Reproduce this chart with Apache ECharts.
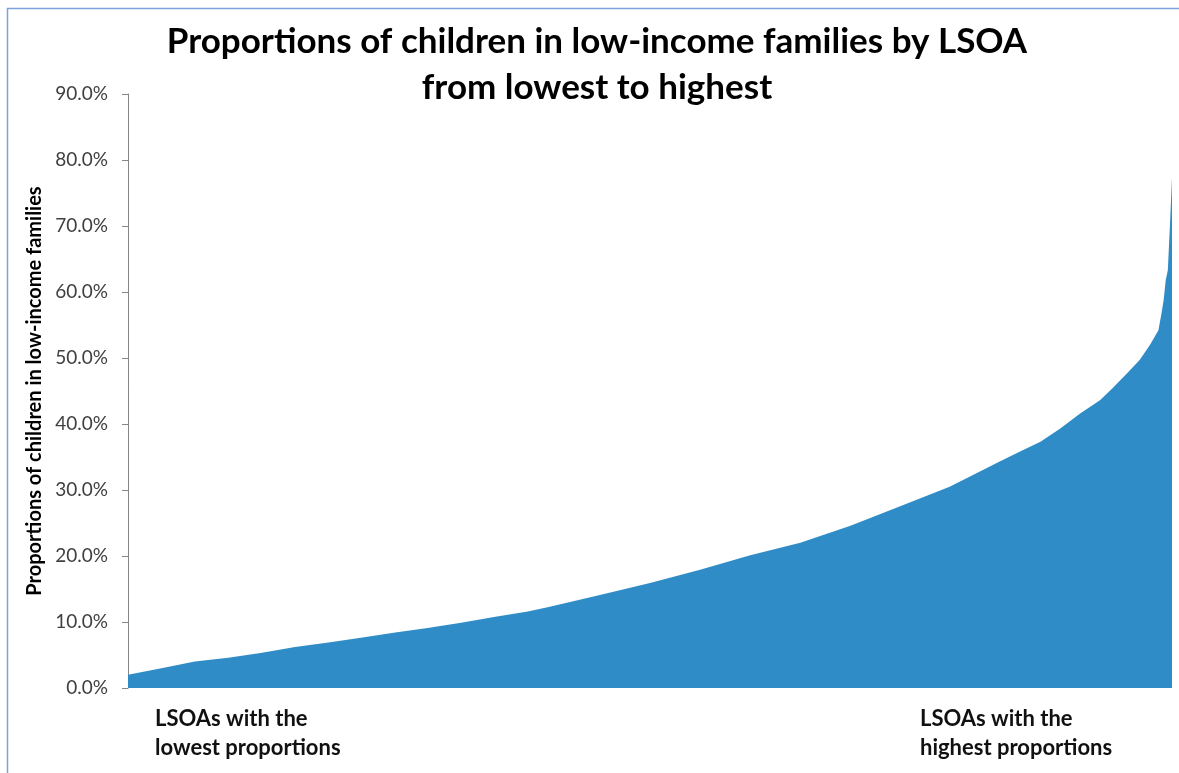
<!DOCTYPE html>
<html>
<head>
<meta charset="utf-8">
<script src="https://cdn.jsdelivr.net/npm/echarts@6/dist/echarts.min.js"></script>
<style>
  html, body { margin: 0; padding: 0; background: #ffffff; }
  #chart { width: 1179px; height: 773px; }
</style>
</head>
<body>
<div id="chart"></div>
<script>
// LSOA rank (scaled 0-1000, lowest to highest) and proportion of children in low-income families (%)
const ranks = [0, 32, 64, 96, 127, 160, 192, 223, 256, 287, 319, 352, 383, 404, 452, 500, 548, 596, 644, 692, 739, 787, 816, 835, 854, 874, 893, 912, 931, 943, 957, 969, 979, 987, 990, 992, 994, 996, 998, 1000];
const values = [2.0, 3.0, 4.0, 4.6, 5.3, 6.2, 6.9, 7.6, 8.4, 9.1, 9.9, 10.8, 11.6, 12.3, 14.1, 15.9, 17.9, 20.1, 22.0, 24.6, 27.5, 30.5, 32.8, 34.3, 35.8, 37.3, 39.3, 41.6, 43.6, 45.4, 47.7, 49.7, 52.0, 54.2, 56.8, 58.8, 61.8, 63.3, 70.0, 77.3];
const yTicks = [0, 10, 20, 30, 40, 50, 60, 70, 80, 90];
const titleLines = ['Proportions of children in low-income families by LSOA', 'from lowest to highest'];
const yAxisName = 'Proportions of children in low-income families';
const leftLabel = 'LSOAs with the\nlowest proportions';
const rightLabel = 'LSOAs with the\nhighest proportions';

const seriesData = ranks.map((r, i) => [r, values[i]]);

const chart = echarts.init(document.getElementById('chart'));
chart.setOption({
  animation: false,
  backgroundColor: '#ffffff',
  title: {
    text: titleLines.join('\n'),
    left: 592,
    top: 14,
    textAlign: 'center',
    textStyle: { fontFamily: 'Lato', fontWeight: 'bold', fontSize: 35, color: '#000000', lineHeight: 46 }
  },
  grid: { left: 128, right: 7, top: 94, bottom: 85, containLabel: false },
  xAxis: {
    type: 'value', min: 0, max: 1000, show: false
  },
  yAxis: {
    type: 'value', min: yTicks[0], max: yTicks[yTicks.length - 1], interval: 10,
    name: yAxisName,
    nameLocation: 'middle',
    nameGap: 82,
    nameTextStyle: { fontFamily: 'Lato', fontWeight: 'bold', fontSize: 20, color: '#000000' },
    axisLine: { show: true, lineStyle: { color: '#868686', width: 1 } },
    axisTick: { show: true, length: 6, lineStyle: { color: '#868686' } },
    axisLabel: { fontFamily: 'Lato', fontSize: 19, color: '#404040', margin: 20,
      formatter: v => v.toFixed(1) + '%' },
    splitLine: { show: false }
  },
  series: [{
    type: 'line',
    data: seriesData,
    showSymbol: false,
    smooth: false,
    lineStyle: { width: 0 },
    areaStyle: { color: '#2F8CC6', opacity: 1 },
    itemStyle: { color: '#2F8CC6' }
  }],
  graphic: [
    { type: 'rect', shape: { x: 7.5, y: 8.5, width: 1300, height: 900 },
      style: { fill: 'none', stroke: '#7BA3DC', lineWidth: 1.5 }, silent: true },
    { type: 'text', left: 155, top: 704,
      style: { text: leftLabel, font: 'bold 22px Lato', fill: '#111111', lineHeight: 29 } },
    { type: 'text', left: 920, top: 704,
      style: { text: rightLabel, font: 'bold 22px Lato', fill: '#111111', lineHeight: 29 } }
  ]
});
</script>
</body>
</html>
